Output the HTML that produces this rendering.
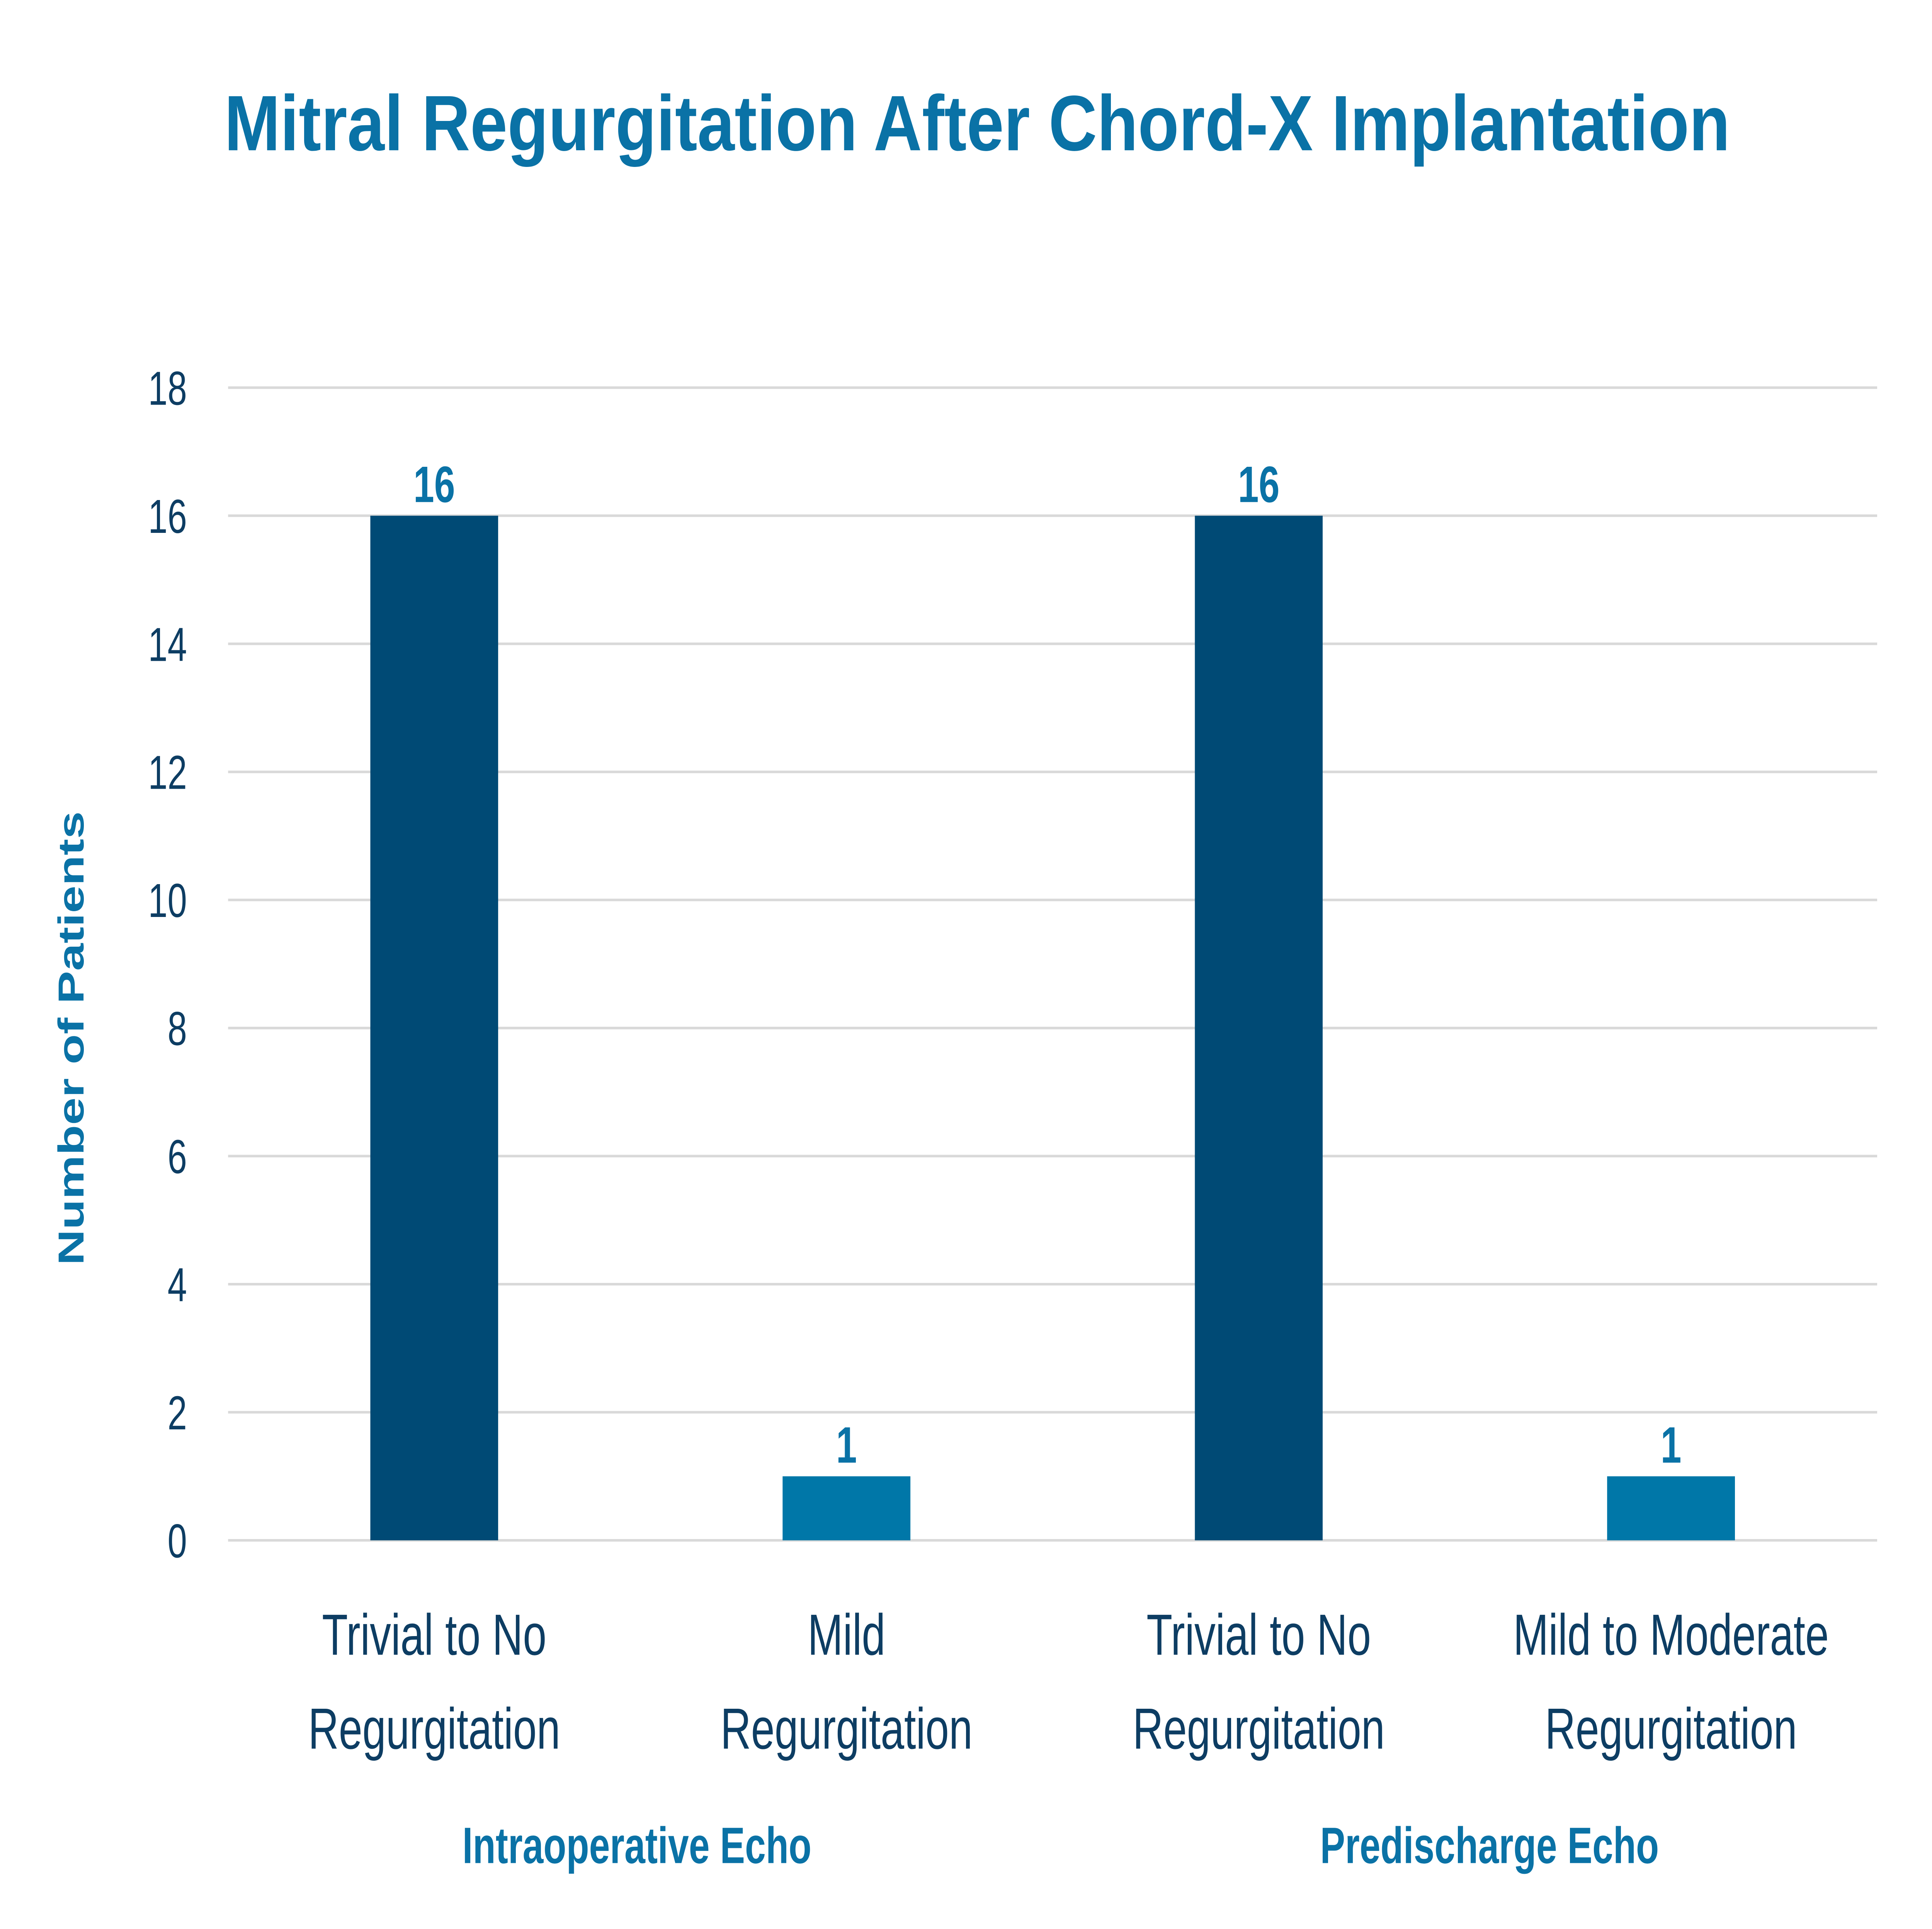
<!DOCTYPE html>
<html><head><meta charset="utf-8"><style>
html,body{margin:0;padding:0;background:#fff;width:100%;height:100%;overflow:hidden;}
svg{display:block;width:100vw;height:100vh;font-family:"Liberation Sans",sans-serif;}
</style></head><body>
<svg id="chart" viewBox="0 0 1550 1129.6" preserveAspectRatio="none" xmlns="http://www.w3.org/2000/svg">
<rect width="1550" height="1129.6" fill="#fff"/>
<text x="784" y="88" text-anchor="middle" font-size="46" font-weight="bold" fill="#0a72a6" textLength="1208" lengthAdjust="spacingAndGlyphs">Mitral Regurgitation After Chord-X Implantation</text>
<text transform="translate(67,608) rotate(-90)" text-anchor="middle" font-size="29" font-weight="bold" fill="#0a72a6">Number of Patients</text>
<text x="511" y="1091" text-anchor="middle" font-size="30" font-weight="bold" fill="#0a72a6">Intraoperative Echo</text>
<text x="1195" y="1091" text-anchor="middle" font-size="30" font-weight="bold" fill="#0a72a6">Predischarge Echo</text>
<g id="grid"></g><g id="bars"></g><g id="labels"></g>
</svg>
<script>
const categories1 = ["Trivial to No", "Mild", "Trivial to No", "Mild to Moderate"];
const categories2 = ["Regurgitation", "Regurgitation", "Regurgitation", "Regurgitation"];
const values = [16, 1, 16, 1];
const colors = ["#004a75", "#0077a8", "#004a75", "#0077a8"];
const ticks = [0, 2, 4, 6, 8, 10, 12, 14, 16, 18];
const NS = "http://www.w3.org/2000/svg";
const x0 = 183, x1 = 1506, y0 = 902, yTop = 227, yMax = 18;
const y = v => y0 - (y0 - yTop) * v / yMax;
const band = (x1 - x0) / categories1.length;
const xc = i => x0 + band * (i + 0.5);
const bw = band * 0.31;
function mk(tag, attrs, parent, text){const e=document.createElementNS(NS,tag);for(const k in attrs)e.setAttribute(k,attrs[k]);if(text!==undefined)e.textContent=text;document.getElementById(parent).appendChild(e);return e;}
ticks.forEach(t=>{
  const l=mk("line",{x1:x0,x2:x1,y1:y(t),y2:y(t),stroke:"#d9d9d9","stroke-width":1.5},"grid");
  
  
  const tx=mk("text",{x:150,y:y(t)+10,"text-anchor":"end","font-size":28,fill:"#0d3d63"},"grid",String(t));
  
  
});
values.forEach((v,i)=>{
  const r=mk("rect",{x:xc(i)-bw/2,y:y(v),width:bw,height:y0-y(v),fill:colors[i]},"bars");
  
  
  const vl=mk("text",{x:xc(i),y:y(v)-8,"text-anchor":"middle","font-size":30,"font-weight":"bold",fill:"#0a72a6"},"labels",String(v));
  
  
  const c1=mk("text",{x:xc(i),y:969,"text-anchor":"middle","font-size":34,fill:"#0d3d63"},"labels",categories1[i]);
  
  
  const c2=mk("text",{x:xc(i),y:1024,"text-anchor":"middle","font-size":34,fill:"#0d3d63"},"labels",categories2[i]);
  
  
});
</script>
</body></html>
